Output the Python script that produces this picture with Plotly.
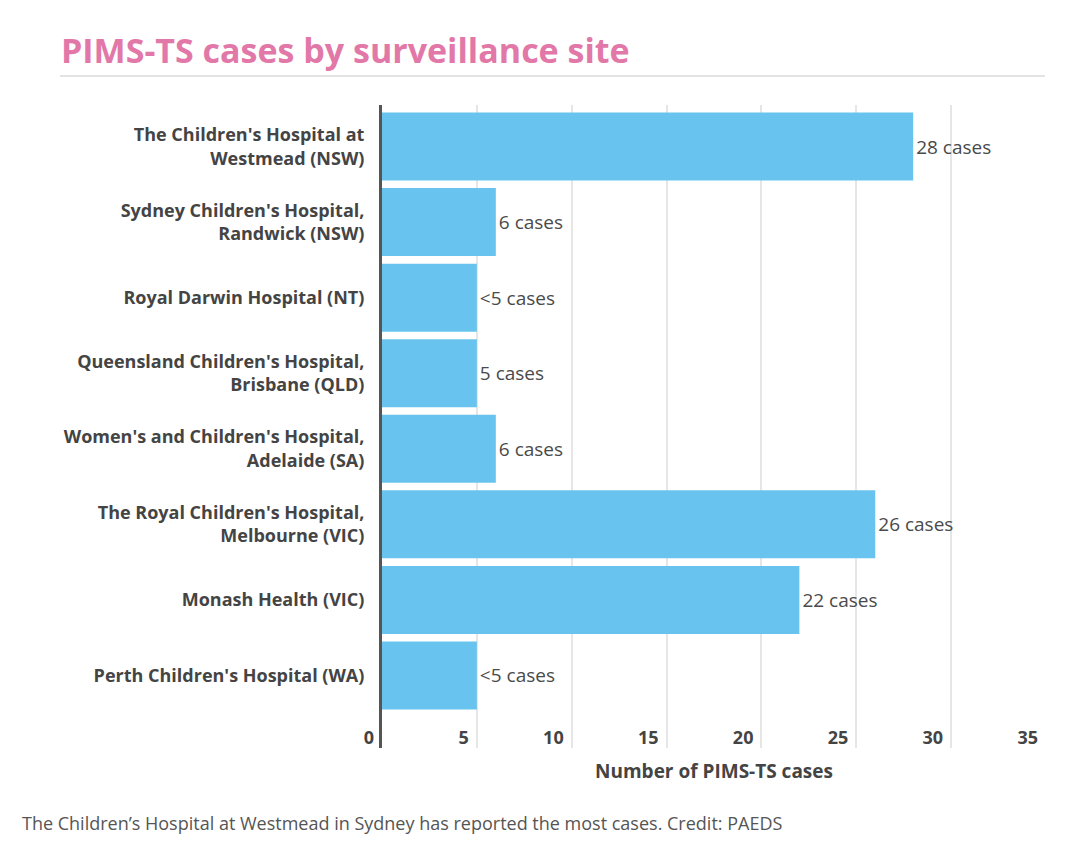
import plotly.graph_objects as go

sites = [
    "The Children's Hospital at<br>Westmead (NSW)",
    "Sydney Children's Hospital,<br>Randwick (NSW)",
    "Royal Darwin Hospital (NT)",
    "Queensland Children's Hospital,<br>Brisbane (QLD)",
    "Women's and Children's Hospital,<br>Adelaide (SA)",
    "The Royal Children's Hospital,<br>Melbourne (VIC)",
    "Monash Health (VIC)",
    "Perth Children's Hospital (WA)",
]
cases = [28, 6, 5, 5, 6, 26, 22, 5]
case_labels = ["28 cases", "6 cases", "<5 cases", "5 cases",
               "6 cases", "26 cases", "22 cases", "<5 cases"]
x_ticks = [0, 5, 10, 15, 20, 25, 30, 35]

FONT = "Open Sans"
TEXT = "#444444"

fig = go.Figure()

fig.add_trace(go.Bar(
    x=cases,
    y=sites,
    orientation="h",
    marker=dict(color="#68c4ee", line=dict(width=0)),
    text=case_labels,
    textposition="outside",
    cliponaxis=False,
    textfont=dict(family=FONT, size=19, color="#4a4a4a"),
    hovertemplate="<b>%{y}</b><br>%{text}<extra></extra>",
))

# page body adds an 8px offset, so margins are shifted by that
fig.update_layout(
    width=1080,
    height=844,
    margin=dict(l=374, r=42, t=97, b=104),
    paper_bgcolor="white",
    plot_bgcolor="white",
    showlegend=False,
    bargap=0.1,
    font=dict(family=FONT, color=TEXT),
)

fig.update_xaxes(
    range=[0, 35],
    tickvals=x_ticks,
    ticklabelposition="outside left",
    ticklabelstandoff=-23,
    ticklabelshift=-8,
    tickfont=dict(family=FONT, size=18, color=TEXT, weight=700),
    showgrid=True,
    gridcolor="#e6e6e6",
    gridwidth=2,
    zeroline=False,
    showline=False,
    ticks="",
    title=dict(text="Number of PIMS-TS cases",
               font=dict(family=FONT, size=19, color=TEXT, weight=700),
               standoff=16),
)

fig.update_yaxes(
    range=[7.96, -0.55],
    showgrid=False,
    showline=True,
    linecolor="#555555",
    linewidth=3,
    ticks="",
    ticklabelstandoff=11,
    tickfont=dict(family=FONT, size=18, color=TEXT, weight=700),
)

# title with rule underneath
fig.add_annotation(
    text="PIMS-TS cases by surveillance site",
    xref="paper", yref="paper", x=-0.4865, y=1.0855,
    xanchor="left", yanchor="middle", showarrow=False,
    font=dict(family=FONT, size=34, color="#e278a8", weight=700),
)
fig.add_shape(
    type="line", xref="paper", yref="paper",
    x0=-0.485, x1=0.9985, y0=1.0451, y1=1.0451,
    line=dict(color="#e3e3e3", width=2),
)

# caption
fig.add_annotation(
    text="The Children’s Hospital at Westmead in Sydney has reported the most cases. Credit: PAEDS",
    xref="paper", yref="paper", x=-0.545, y=-0.1166,
    xanchor="left", yanchor="middle", showarrow=False,
    font=dict(family=FONT, size=18, color="#555555"),
)

fig.write_html("out.html")
